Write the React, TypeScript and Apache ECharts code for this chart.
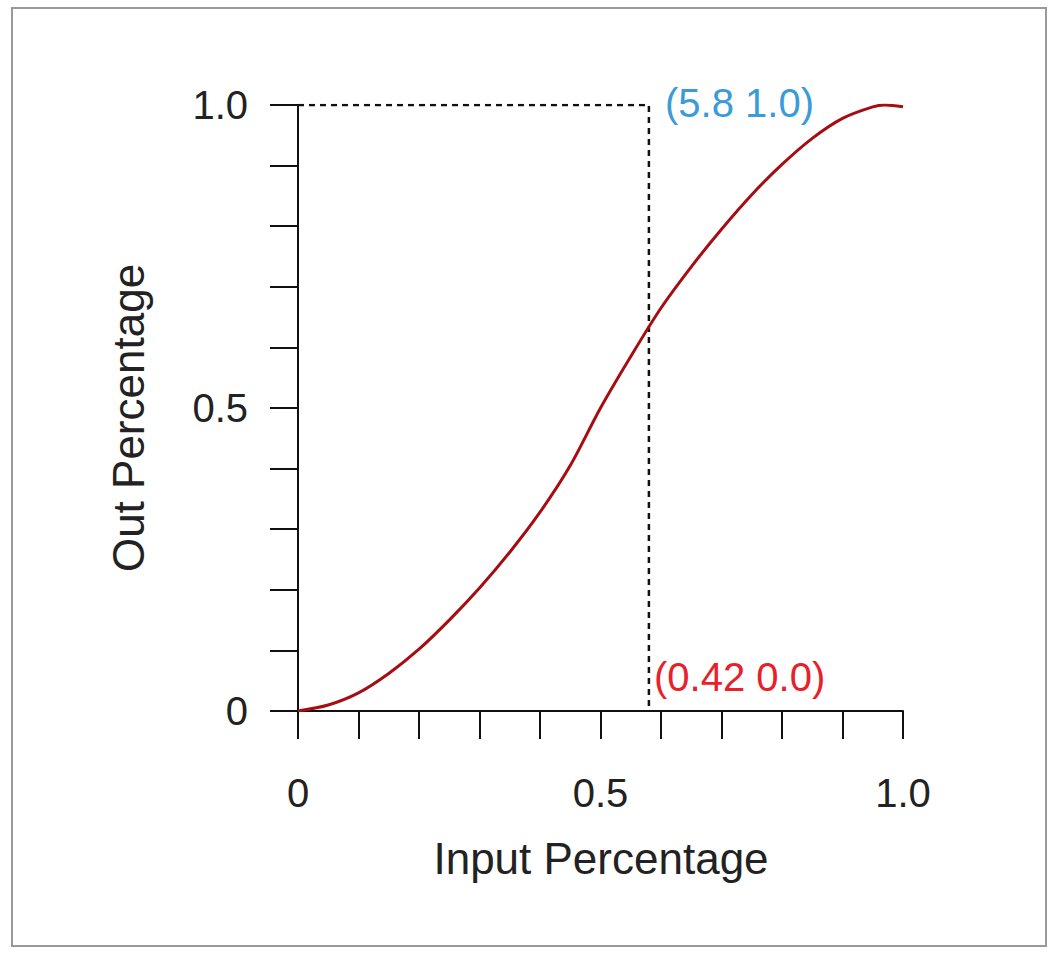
import React, { useEffect, useRef } from "react";
import * as echarts from "echarts";

// curve: input share -> output share
const inputValues = [0, 0.05, 0.1, 0.15, 0.2, 0.25, 0.3, 0.35, 0.4, 0.45, 0.5, 0.55, 0.6, 0.65, 0.7, 0.75, 0.8, 0.85, 0.9, 0.95, 0.97, 1.0];
const outputValues = [0, 0.01, 0.03, 0.062, 0.102, 0.15, 0.203, 0.262, 0.328, 0.405, 0.5, 0.585, 0.665, 0.733, 0.795, 0.852, 0.902, 0.945, 0.978, 0.997, 1.0, 0.997];
const guideX = 0.58;
const guideY = 1.0;
const yTickLabels: Record<string, string> = { "0": "0", "0.5": "0.5", "1": "1.0" };
const xTickLabels: Record<string, string> = { "0": "0", "0.5": "0.5", "1": "1.0" };

const font = "'Liberation Sans', Arial, sans-serif";

const App: React.FC = () => {
  const ref = useRef<HTMLDivElement>(null);

  useEffect(() => {
    if (!ref.current) return;
    const chart = echarts.init(ref.current, undefined, { renderer: "svg" });
    const round = (v: number) => String(Math.round(v * 10) / 10);
    chart.setOption({
      animation: false,
      backgroundColor: "#ffffff",
      grid: { left: 298, right: 155, top: 105, bottom: 247 },
      xAxis: {
        type: "value",
        min: 0,
        max: 1,
        interval: 0.1,
        splitLine: { show: false },
        axisLine: { lineStyle: { color: "#111", width: 2 } },
        axisTick: { show: true, length: 28, lineStyle: { color: "#111", width: 2 } },
        axisLabel: {
          margin: 62,
          fontSize: 40,
          fontFamily: font,
          color: "#222",
          formatter: (v: number) => xTickLabels[round(v)] ?? "",
        },
      },
      yAxis: {
        type: "value",
        min: 0,
        max: 1,
        interval: 0.1,
        splitLine: { show: false },
        axisLine: { show: true, lineStyle: { color: "#111", width: 2 } },
        axisTick: { show: true, length: 28, lineStyle: { color: "#111", width: 2 } },
        axisLabel: {
          margin: 50,
          fontSize: 40,
          fontFamily: font,
          color: "#222",
          formatter: (v: number) => yTickLabels[round(v)] ?? "",
        },
      },
      series: [
        {
          type: "line",
          data: inputValues.map((x, i) => [x, outputValues[i]]),
          smooth: 0.3,
          showSymbol: false,
          lineStyle: { color: "#a50d12", width: 3 },
          z: 3,
        },
        {
          type: "line",
          data: [[0, guideY], [guideX, guideY], [guideX, 0]],
          showSymbol: false,
          lineStyle: { color: "#111", width: 2.5, type: [6, 5] },
          z: 2,
        },
      ],
      graphic: [
        {
          type: "rect",
          shape: { x: 12, y: 8, width: 1034, height: 938 },
          style: { fill: "none", stroke: "#9a9a9a", lineWidth: 2 },
        },
        {
          type: "text",
          x: 665,
          y: 103,
          style: { text: "(5.8 1.0)", fontSize: 40, fontFamily: font, fill: "#3b9bd8", verticalAlign: "middle" },
        },
        {
          type: "text",
          x: 654,
          y: 677,
          style: { text: "(0.42 0.0)", fontSize: 40, fontFamily: font, fill: "#e8202a", verticalAlign: "middle" },
        },
        {
          type: "text",
          x: 601,
          y: 858,
          style: { text: "Input Percentage", fontSize: 44, fontFamily: font, fill: "#222", align: "center", verticalAlign: "middle" },
        },
        {
          type: "text",
          x: 128,
          y: 418,
          rotation: Math.PI / 2,
          style: { text: "Out Percentage", fontSize: 44, fontFamily: font, fill: "#222", align: "center", verticalAlign: "middle" },
        },
      ],
    });
    return () => chart.dispose();
  }, []);

  return (
    <div
      ref={ref}
      style={{ position: "fixed", left: 0, top: 0, width: 1058, height: 958 }}
    />
  );
};

export default App;
